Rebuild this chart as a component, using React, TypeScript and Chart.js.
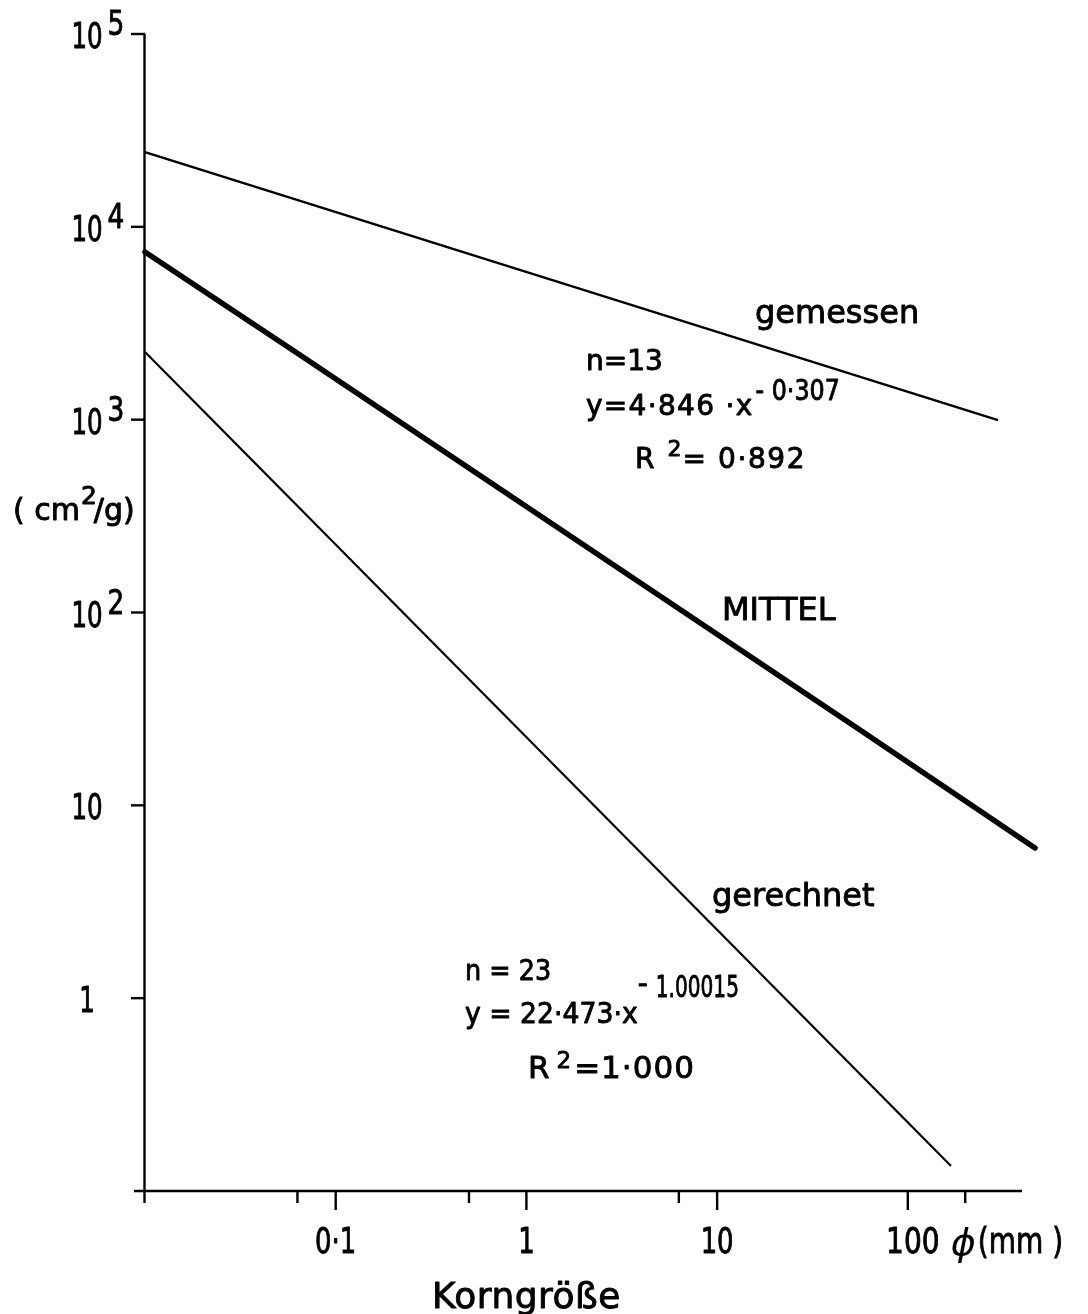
import React, { useEffect, useRef } from "react";
import { Chart, registerables } from "chart.js";

Chart.register(...registerables);

// ---- data ----
const gemessenX = [0.01, 297];
const gemessenY = [24430, 995];
const mittelX = [0.01, 0.065, 56.2, 464.5];
const mittelY = [7405, 2163, 24.6, 6.01];
const gerechnetX = [0.01, 168.5];
const gerechnetY = [2243, 0.1348];

const yTickValues = [1e5, 1e4, 1e3, 1e2, 10, 1];
const yTickBase = ["10", "10", "10", "10", "10", "1"];
const yTickExp = ["5", "4", "3", "2", "", ""];
const xMajorTicks = [0.1, 1, 10, 100];
const xMajorLabels = ["0·1", "1", "10", "100"];
const xMinorTicks = [0.063, 0.5, 6.3, 200];

const X_MIN = 0.01;
const X_MAX = 397;
const Y_MIN = 0.1;
const Y_MAX = 1e5;

const xTitle = "Korngröße";
const xUnit = "(mm )";
const phiSymbol = "ϕ";
const yTitleAnchor = 302; // data value at the baseline of (cm²/g)

// annotation anchors in data coordinates
const labelGemessen = { text: "gemessen", x: 15.8, y: 3172 };
const labelMittel = { text: "MITTEL", x: 10.61, y: 91.4 };
const labelGerechnet = { text: "gerechnet", x: 9.404, y: 3.006 };
const fitGemessen = { n: "n=13", eq: "y=4·846 ·x", exp: "- 0·307", r2: "= 0·892", xA: 2.053, yN: 1809, yEq: 1057, xR: 3.711, yR: 561.5 };
const fitGerechnet = { n: "n = 23", eq: "y = 22·473·x", exp: "1.00015", r2: "=1·000", xA: 0.4764, yN: 1.242, yEq: 0.743, xR: 1.019, yR: 0.3853 };

const F = '"DejaVu Sans", "Noto Sans", sans-serif';

type Seg = { t: string; size: number; dy?: number; sx?: number; ls?: number; gap?: number; italic?: boolean; weight?: number };

function segWidth(ctx: CanvasRenderingContext2D, s: Seg) {
  ctx.save();
  ctx.font = `${s.italic ? "italic " : ""}${s.size}px ${F}`;
  (ctx as any).letterSpacing = `${s.ls ?? 0}px`;
  const w = ctx.measureText(s.t).width * (s.sx ?? 1);
  ctx.restore();
  return w;
}

function richWidth(ctx: CanvasRenderingContext2D, segs: Seg[]) {
  let w = 0;
  for (const s of segs) w += (s.gap ?? 0) + segWidth(ctx, s);
  return w;
}

function drawRich(ctx: CanvasRenderingContext2D, segs: Seg[], x: number, y: number, align: "left" | "center" = "left") {
  let cx = align === "center" ? x - richWidth(ctx, segs) / 2 : x;
  for (const s of segs) {
    const sx = s.sx ?? 1;
    const w = segWidth(ctx, s);
    ctx.save();
    ctx.font = `${s.italic ? "italic " : ""}${s.size}px ${F}`;
    (ctx as any).letterSpacing = `${s.ls ?? 0}px`;
    ctx.fillStyle = "#000";
    ctx.strokeStyle = "#000";
    ctx.lineWidth = s.weight ?? 0.9;
    ctx.lineJoin = "round";
    ctx.textAlign = "left";
    ctx.textBaseline = "alphabetic";
    ctx.translate(cx + (s.gap ?? 0), y + (s.dy ?? 0));
    ctx.scale(sx, 1);
    ctx.fillText(s.t, 0, 0);
    if ((s.weight ?? 0.9) > 0) ctx.strokeText(s.t, 0, 0);
    ctx.restore();
    cx += (s.gap ?? 0) + w;
  }
}

const axesPlugin = {
  id: "paperAxes",
  beforeDraw(chart: any) {
    const { ctx, width, height } = chart;
    ctx.save();
    ctx.fillStyle = "#fff";
    ctx.fillRect(0, 0, width, height);
    ctx.restore();
  },
  beforeDatasetsDraw(chart: any) {
    const { ctx, chartArea } = chart;
    const xs = chart.scales.x;
    const ys = chart.scales.y;
    const x0 = xs.getPixelForValue(X_MIN);
    const yBottom = ys.getPixelForValue(Y_MIN);
    const yTop = ys.getPixelForValue(Y_MAX);
    ctx.save();
    ctx.strokeStyle = "#000";
    ctx.lineWidth = 2.4;
    ctx.lineCap = "butt";
    // y axis (extends below x axis as the 0.01 tick)
    ctx.beginPath();
    ctx.moveTo(x0 - 0.5, yTop);
    ctx.lineTo(x0 - 0.5, yBottom + 12);
    ctx.stroke();
    // x axis
    ctx.beginPath();
    ctx.moveTo(x0 - 11, yBottom);
    ctx.lineTo(chartArea.right, yBottom);
    ctx.stroke();
    // y ticks
    for (const v of yTickValues) {
      const py = ys.getPixelForValue(v);
      ctx.beginPath();
      ctx.moveTo(x0 - 14, py);
      ctx.lineTo(x0, py);
      ctx.stroke();
    }
    // x ticks
    for (const v of xMajorTicks) {
      const px = xs.getPixelForValue(v);
      ctx.beginPath();
      ctx.moveTo(px, yBottom);
      ctx.lineTo(px, yBottom + 19);
      ctx.stroke();
    }
    for (const v of xMinorTicks) {
      const px = xs.getPixelForValue(v);
      ctx.beginPath();
      ctx.moveTo(px, yBottom);
      ctx.lineTo(px, yBottom + 12);
      ctx.stroke();
    }
    ctx.restore();
  },
  afterDatasetsDraw(chart: any) {
    const { ctx } = chart;
    const xs = chart.scales.x;
    const ys = chart.scales.y;
    const X = (v: number) => xs.getPixelForValue(v);
    const Y = (v: number) => ys.getPixelForValue(v);
    const yBottom = Y(Y_MIN);
    const x0 = X(X_MIN);

    // y tick labels
    yTickValues.forEach((v, i) => {
      const py = Y(v);
      const baseSeg: Seg = { t: yTickBase[i], size: 35, sx: 0.7 };
      const bw = segWidth(ctx, baseSeg);
      const cx = x0 - 58;
      drawRich(ctx, [baseSeg], cx - bw / 2, py + 14);
      if (yTickExp[i]) {
        drawRich(ctx, [{ t: yTickExp[i], size: 33, sx: 0.8 }], cx + bw / 2 + 5, py + 1);
      }
    });

    // y axis title (cm²/g)
    drawRich(ctx, [
      { t: "( cm", size: 30 },
      { t: "2", size: 25, dy: -16, gap: 1 },
      { t: "/g)", size: 30, gap: -3 },
    ], 13, Y(yTitleAnchor));

    // x tick labels
    xMajorTicks.forEach((v, i) => {
      drawRich(ctx, [{ t: xMajorLabels[i], size: 35, sx: i === 3 ? 0.8 : 0.74 }], X(v) + (i === 3 ? 5 : 0), yBottom + 62, "center");
    });
    const p100 = X(100);
    drawRich(ctx, [{ t: phiSymbol, size: 38, italic: true, weight: 0 }], p100 + 43, yBottom + 64);
    drawRich(ctx, [{ t: xUnit, size: 35, sx: 0.8 }], p100 + 70, yBottom + 62);

    // x title
    drawRich(ctx, [{ t: xTitle, size: 36, ls: 0.5 }], X(1), yBottom + 117, "center");

    // curve labels
    for (const l of [labelGemessen, labelMittel, labelGerechnet]) {
      drawRich(ctx, [{ t: l.text, size: 32 }], X(l.x), Y(l.y));
    }

    // fit text: gemessen
    const g = fitGemessen;
    drawRich(ctx, [{ t: g.n, size: 28 }], X(g.xA), Y(g.yN));
    drawRich(ctx, [
      { t: g.eq, size: 28, ls: 1.3 },
      { t: g.exp, size: 28, sx: 0.85, dy: -15, gap: 2 },
    ], X(g.xA), Y(g.yEq));
    drawRich(ctx, [
      { t: "R", size: 28 },
      { t: "2", size: 22, dy: -12, gap: 13 },
      { t: g.r2, size: 28, ls: 1.6, gap: 1 },
    ], X(g.xR), Y(g.yR));

    // fit text: gerechnet
    const r = fitGerechnet;
    drawRich(ctx, [{ t: r.n, size: 29, sx: 0.88 }], X(r.xA), Y(r.yN));
    drawRich(ctx, [
      { t: r.eq, size: 29, sx: 0.92 },
      { t: "-", size: 28, dy: -30, gap: 0 },
      { t: r.exp, size: 30, sx: 0.67, dy: -26, gap: 8 },
    ], X(r.xA), Y(r.yEq));
    drawRich(ctx, [
      { t: "R", size: 31 },
      { t: "2", size: 23, dy: -10, gap: 7 },
      { t: r.r2, size: 31, gap: 3, ls: 1 },
    ], X(r.xR), Y(r.yR));
  },
};

export default function App() {
  const ref = useRef<HTMLCanvasElement | null>(null);
  useEffect(() => {
    if (!ref.current) return;
    const pts = (xs: number[], ys: number[]) => xs.map((x, i) => ({ x, y: ys[i] }));
    const chart = new Chart(ref.current, {
      type: "scatter",
      data: {
        datasets: [
          { label: "gemessen", data: pts(gemessenX, gemessenY), showLine: true, borderColor: "#000", backgroundColor: "#000", borderWidth: 2.4, pointRadius: 0, clip: false } as any,
          { label: "MITTEL", data: pts(mittelX, mittelY), showLine: true, borderColor: "#000", backgroundColor: "#000", borderWidth: 5.5, borderCapStyle: "round", borderJoinStyle: "round", pointRadius: 0, clip: false } as any,
          { label: "gerechnet", data: pts(gerechnetX, gerechnetY), showLine: true, borderColor: "#000", backgroundColor: "#000", borderWidth: 2.2, pointRadius: 0, clip: false } as any,
        ],
      },
      options: {
        animation: false,
        responsive: false,
        devicePixelRatio: 1,
        events: [],
        layout: { padding: { left: 145, right: 66, top: 34, bottom: 123 } },
        plugins: { legend: { display: false }, tooltip: { enabled: false } },
        scales: {
          x: {
            type: "logarithmic", min: X_MIN, max: X_MAX,
            grid: { display: false }, border: { display: false }, ticks: { display: false },
            afterFit: (s: any) => { s.height = 0; },
          },
          y: {
            type: "logarithmic", min: Y_MIN, max: Y_MAX,
            grid: { display: false }, border: { display: false }, ticks: { display: false },
            afterFit: (s: any) => { s.width = 0; },
          },
        },
      } as any,
      plugins: [axesPlugin],
    });
    return () => chart.destroy();
  }, []);
  return (
    <div style={{ position: "absolute", left: 0, top: 0, width: 1088, height: 1314, background: "#fff" }}>
      <canvas ref={ref} width={1088} height={1314} style={{ display: "block" }} />
    </div>
  );
}
